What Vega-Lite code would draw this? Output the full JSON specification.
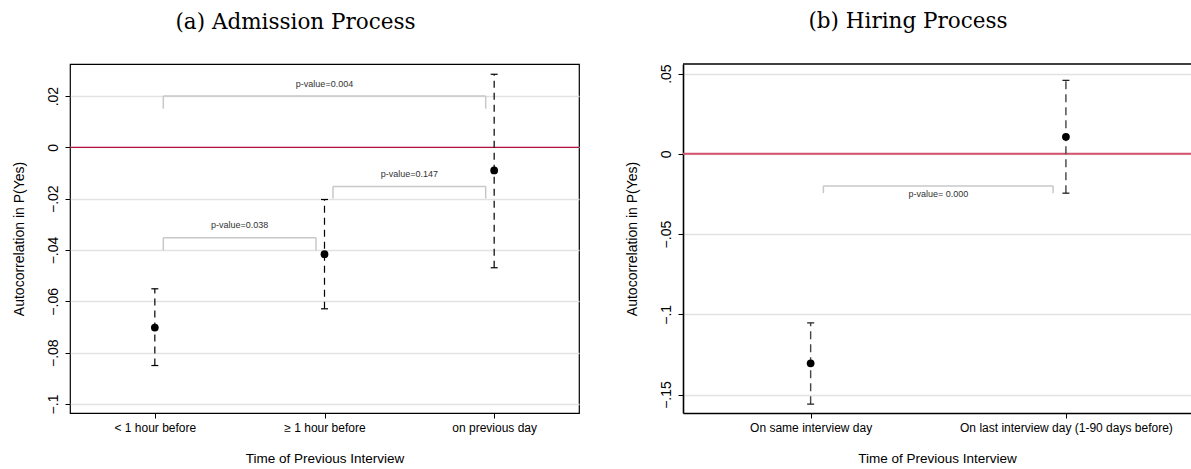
{
  "$schema": "https://vega.github.io/schema/vega-lite/v6.json",
  "background": "white",
  "padding": {"left": 11, "top": 10, "right": 0, "bottom": 0},
  "spacing": 43,
  "datasets": {
    "a_pts": [
      {"cat": 1, "est": -0.0702, "lo": -0.085, "hi": -0.0551},
      {"cat": 2, "est": -0.0416, "lo": -0.0629, "hi": -0.0203},
      {"cat": 3, "est": -0.009, "lo": -0.0469, "hi": 0.0285}
    ],
    "a_br": [
      {"from": 1.05, "to": 2.95, "mid": 2.0, "top": 0.02, "leg": 0.0151, "ly": 0.0246, "label": "p-value=0.004"},
      {"from": 2.05, "to": 2.95, "mid": 2.5, "top": -0.0152, "leg": -0.0199, "ly": -0.0103, "label": "p-value=0.147"},
      {"from": 1.05, "to": 1.95, "mid": 1.5, "top": -0.0352, "leg": -0.0402, "ly": -0.0304, "label": "p-value=0.038"}
    ],
    "b_pts": [
      {"cat": 1, "est": -0.1305, "lo": -0.156, "hi": -0.1053},
      {"cat": 2, "est": 0.0106, "lo": -0.0245, "hi": 0.0458}
    ],
    "b_br": [
      {"from": 1.05, "to": 1.95, "mid": 1.5, "top": -0.02, "leg": -0.0245, "ly": -0.0252, "label": "p-value= 0.000"}
    ]
  },
  "config": {
    "font": "Liberation Sans",
    "view": {"stroke": null},
    "axis": {
      "labelFont": "Liberation Sans", "titleFont": "Liberation Sans",
      "labelColor": "#000", "titleColor": "#000", "titleFontWeight": "normal",
      "tickColor": "#000", "domainColor": "#000",
      "gridColor": "#e2e2e2", "gridWidth": 1.5,
      "labelFlush": false, "labelOverlap": false, "labelLimit": 0
    },
    "title": {"font": "DejaVu Serif", "fontSize": 21.5, "fontWeight": "normal", "color": "#000", "anchor": "middle", "frame": "group", "baseline": "alphabetic", "offset": 31, "dx": -29}
  },
  "hconcat": [
    {
      "width": 509, "height": 349,
      "title": {"text": "(a) Admission Process"},
      "view": {"stroke": "#000", "strokeWidth": 1.2},
      "layer": [
        {
          "data": {"name": "a_pts"},
          "mark": {"type": "point", "opacity": 0},
          "encoding": {
            "x": {"field": "cat", "type": "quantitative", "scale": {"domain": [0.5, 3.5], "nice": false, "zero": false}, "title": "Time of Previous Interview",
              "axis": {"values": [1, 2, 3], "labelExpr": "['< 1 hour before','≥ 1 hour before','on previous day'][datum.value-1]", "grid": false, "domain": false, "labelFontSize": 12, "labelAngle": 0, "tickSize": 5, "labelPadding": 4, "titleFontSize": 13.5, "titlePadding": 18}},
            "y": {"field": "est", "type": "quantitative", "scale": {"domain": [-0.1035, 0.0325], "nice": false, "zero": false}, "title": "Autocorrelation in P(Yes)",
              "axis": {"values": [-0.1, -0.08, -0.06, -0.04, -0.02, 0, 0.02], "labelExpr": "replace(format(datum.value,'~g'),'0.','.')", "grid": true, "domain": false, "labelAngle": -90, "labelAlign": "center", "labelBaseline": "bottom", "labelFontSize": 14, "tickSize": 5, "labelPadding": 5, "titleFontSize": 14, "titlePadding": 20}}
          }
        },
        {
          "data": {"values": [{}]},
          "mark": {"type": "rule", "color": "#b4123c", "strokeWidth": 1.2},
          "encoding": {"y": {"datum": 0, "type": "quantitative", "scale": {"domain": [-0.1035, 0.0325], "nice": false, "zero": false}, "title": "Autocorrelation in P(Yes)"}}
        },
        {
          "data": {"name": "a_br"},
          "mark": {"type": "rule", "color": "#c8c8c8", "strokeWidth": 1.5},
          "encoding": {
            "x": {"field": "from", "type": "quantitative", "title": "Time of Previous Interview"}, "x2": {"field": "to"},
            "y": {"field": "top", "type": "quantitative", "title": "Autocorrelation in P(Yes)"}
          }
        },
        {
          "data": {"name": "a_br"},
          "mark": {"type": "rule", "color": "#c8c8c8", "strokeWidth": 1.5},
          "encoding": {
            "x": {"field": "from", "type": "quantitative", "title": "Time of Previous Interview"},
            "y": {"field": "leg", "type": "quantitative", "title": "Autocorrelation in P(Yes)"}, "y2": {"field": "top"}
          }
        },
        {
          "data": {"name": "a_br"},
          "mark": {"type": "rule", "color": "#c8c8c8", "strokeWidth": 1.5},
          "encoding": {
            "x": {"field": "to", "type": "quantitative", "title": "Time of Previous Interview"},
            "y": {"field": "leg", "type": "quantitative", "title": "Autocorrelation in P(Yes)"}, "y2": {"field": "top"}
          }
        },
        {
          "data": {"name": "a_br"},
          "mark": {"type": "text", "fontSize": 9, "color": "#333", "baseline": "middle", "align": "center"},
          "encoding": {
            "x": {"field": "mid", "type": "quantitative", "title": "Time of Previous Interview"},
            "y": {"field": "ly", "type": "quantitative", "title": "Autocorrelation in P(Yes)"},
            "text": {"field": "label"}
          }
        },
        {
          "data": {"name": "a_pts"},
          "mark": {"type": "rule", "color": "#000", "strokeWidth": 1.2, "strokeDash": [7, 5]},
          "encoding": {
            "x": {"field": "cat", "type": "quantitative", "title": "Time of Previous Interview"},
            "y": {"field": "lo", "type": "quantitative", "title": "Autocorrelation in P(Yes)"}, "y2": {"field": "hi"}
          }
        },
        {
          "data": {"name": "a_pts"},
          "mark": {"type": "tick", "orient": "horizontal", "size": 7, "thickness": 1.2, "color": "#000", "opacity": 1},
          "encoding": {
            "x": {"field": "cat", "type": "quantitative", "title": "Time of Previous Interview"},
            "y": {"field": "lo", "type": "quantitative", "title": "Autocorrelation in P(Yes)"}
          }
        },
        {
          "data": {"name": "a_pts"},
          "mark": {"type": "tick", "orient": "horizontal", "size": 7, "thickness": 1.2, "color": "#000", "opacity": 1},
          "encoding": {
            "x": {"field": "cat", "type": "quantitative", "title": "Time of Previous Interview"},
            "y": {"field": "hi", "type": "quantitative", "title": "Autocorrelation in P(Yes)"}
          }
        },
        {
          "data": {"name": "a_pts"},
          "mark": {"type": "point", "filled": true, "shape": "circle", "size": 60, "color": "#000", "opacity": 1},
          "encoding": {
            "x": {"field": "cat", "type": "quantitative", "title": "Time of Previous Interview"},
            "y": {"field": "est", "type": "quantitative", "title": "Autocorrelation in P(Yes)"}
          }
        }
      ]
    },
    {
      "width": 508, "height": 349,
      "title": {"text": "(b) Hiring Process"},
      "layer": [
        {
          "data": {"name": "b_pts"},
          "mark": {"type": "point", "opacity": 0},
          "encoding": {
            "x": {"field": "cat", "type": "quantitative", "scale": {"domain": [0.5, 2.49], "nice": false, "zero": false}, "title": "Time of Previous Interview",
              "axis": {"values": [1, 2], "labelExpr": "['On same interview day','On last interview day (1-90 days before)'][datum.value-1]", "grid": false, "domain": true, "domainWidth": 1.6, "labelFontSize": 12, "labelAngle": 0, "tickSize": 5, "labelPadding": 4, "titleFontSize": 13.5, "titlePadding": 18}},
            "y": {"field": "est", "type": "quantitative", "scale": {"domain": [-0.1615, 0.056], "nice": false, "zero": false}, "title": "Autocorrelation in P(Yes)",
              "axis": {"values": [-0.15, -0.1, -0.05, 0, 0.05], "labelExpr": "replace(format(datum.value,'~g'),'0.','.')", "grid": true, "domain": true, "domainWidth": 1.6, "labelAngle": -90, "labelAlign": "center", "labelBaseline": "bottom", "labelFontSize": 14, "tickSize": 5, "labelPadding": 5, "titleFontSize": 14, "titlePadding": 20}}
          }
        },
        {
          "data": {"values": [{}]},
          "mark": {"type": "rule", "color": "#000", "strokeWidth": 1.6},
          "encoding": {"y": {"datum": 0.056, "type": "quantitative", "title": "Autocorrelation in P(Yes)"}}
        },
        {
          "data": {"values": [{}]},
          "mark": {"type": "rule", "color": "#d4536f", "strokeWidth": 2},
          "encoding": {"y": {"datum": 0, "type": "quantitative", "title": "Autocorrelation in P(Yes)"}}
        },
        {
          "data": {"name": "b_br"},
          "mark": {"type": "rule", "color": "#c8c8c8", "strokeWidth": 1.5},
          "encoding": {
            "x": {"field": "from", "type": "quantitative", "title": "Time of Previous Interview"}, "x2": {"field": "to"},
            "y": {"field": "top", "type": "quantitative", "title": "Autocorrelation in P(Yes)"}
          }
        },
        {
          "data": {"name": "b_br"},
          "mark": {"type": "rule", "color": "#c8c8c8", "strokeWidth": 1.5},
          "encoding": {
            "x": {"field": "from", "type": "quantitative", "title": "Time of Previous Interview"},
            "y": {"field": "leg", "type": "quantitative", "title": "Autocorrelation in P(Yes)"}, "y2": {"field": "top"}
          }
        },
        {
          "data": {"name": "b_br"},
          "mark": {"type": "rule", "color": "#c8c8c8", "strokeWidth": 1.5},
          "encoding": {
            "x": {"field": "to", "type": "quantitative", "title": "Time of Previous Interview"},
            "y": {"field": "leg", "type": "quantitative", "title": "Autocorrelation in P(Yes)"}, "y2": {"field": "top"}
          }
        },
        {
          "data": {"name": "b_br"},
          "mark": {"type": "text", "fontSize": 9, "color": "#333", "baseline": "middle", "align": "center"},
          "encoding": {
            "x": {"field": "mid", "type": "quantitative", "title": "Time of Previous Interview"},
            "y": {"field": "ly", "type": "quantitative", "title": "Autocorrelation in P(Yes)"},
            "text": {"field": "label"}
          }
        },
        {
          "data": {"name": "b_pts"},
          "mark": {"type": "rule", "color": "#444", "strokeWidth": 1.4, "strokeDash": [8, 5]},
          "encoding": {
            "x": {"field": "cat", "type": "quantitative", "title": "Time of Previous Interview"},
            "y": {"field": "lo", "type": "quantitative", "title": "Autocorrelation in P(Yes)"}, "y2": {"field": "hi"}
          }
        },
        {
          "data": {"name": "b_pts"},
          "mark": {"type": "tick", "orient": "horizontal", "size": 7, "thickness": 1.3, "color": "#222", "opacity": 1},
          "encoding": {
            "x": {"field": "cat", "type": "quantitative", "title": "Time of Previous Interview"},
            "y": {"field": "lo", "type": "quantitative", "title": "Autocorrelation in P(Yes)"}
          }
        },
        {
          "data": {"name": "b_pts"},
          "mark": {"type": "tick", "orient": "horizontal", "size": 7, "thickness": 1.3, "color": "#222", "opacity": 1},
          "encoding": {
            "x": {"field": "cat", "type": "quantitative", "title": "Time of Previous Interview"},
            "y": {"field": "hi", "type": "quantitative", "title": "Autocorrelation in P(Yes)"}
          }
        },
        {
          "data": {"name": "b_pts"},
          "mark": {"type": "point", "filled": true, "shape": "circle", "size": 60, "color": "#000", "opacity": 1},
          "encoding": {
            "x": {"field": "cat", "type": "quantitative", "title": "Time of Previous Interview"},
            "y": {"field": "est", "type": "quantitative", "title": "Autocorrelation in P(Yes)"}
          }
        }
      ]
    }
  ]
}
